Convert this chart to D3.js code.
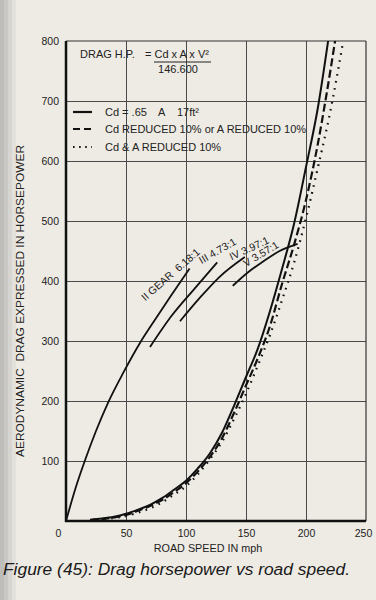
<!DOCTYPE html>
<html>
<head>
<meta charset="utf-8">
<script src="https://cdn.jsdelivr.net/npm/d3@7"></script>
<style>
  body { margin: 0; background: #eeebe4; }
  svg { display: block; font-family: "Liberation Sans", Arial, sans-serif; }
  text { white-space: pre; }
</style>
</head>
<body>
<svg id="chart" width="376" height="600"></svg>
<script>
// ---- data ----
var speedTicks = [0, 50, 100, 150, 200, 250];
var hpTicks = [100, 200, 300, 400, 500, 600, 700, 800];

// drag curves (mph -> hp)
var solidSpeed  = [20, 30, 40, 50, 60, 70, 80, 90, 100, 110, 120, 130, 140, 150, 160, 170, 180, 190, 200, 210, 219];
var solidHp     = [2, 4, 7, 12, 19, 27, 38, 52, 67, 88, 113, 147, 192, 240, 288, 350, 420, 495, 590, 690, 808];
var dashedSpeed = [20, 30, 40, 50, 60, 70, 80, 90, 100, 110, 120, 130, 140, 150, 160, 170, 180, 190, 200, 210, 217, 225];
var dashedHp    = [1, 3, 6, 10, 17, 25, 35, 48, 63, 83, 107, 138, 180, 226, 272, 325, 395, 460, 535, 630, 710, 810];
var dottedSpeed = [20, 30, 40, 50, 60, 70, 80, 90, 100, 110, 120, 130, 140, 150, 160, 170, 180, 190, 200, 210, 220, 231];
var dottedHp    = [1, 2, 5, 8, 14, 21, 31, 44, 58, 78, 103, 132, 170, 212, 260, 310, 368, 430, 505, 590, 680, 800];

// gear curves
var gear2Speed = [0, 8, 16, 25, 35, 48, 62, 75, 88, 103];
var gear2Hp    = [0, 55, 102, 150, 197, 248, 298, 338, 377, 421];
var gear3Speed = [70, 88, 107, 126];
var gear3Hp    = [290, 342, 387, 431];
var gear4Speed = [95, 112, 128, 149];
var gear4Hp    = [333, 373, 407, 440];
var gear5Speed = [139, 152, 164, 178, 193];
var gear5Hp    = [392, 415, 432, 450, 462];

var gearLabels = ["II GEAR  6.18:1", "III 4.73:1", "IV 3.97:1", "V 3.57:1"];
var legendLabels = ["Cd = .65", "Cd REDUCED 10% or A REDUCED 10%", "Cd & A REDUCED 10%"];

var svg = d3.select("#chart");
var defs = svg.append("defs");
svg.append("rect").attr("width", 376).attr("height", 600).attr("fill", "#eeebe4");
// shaded left edge of the scanned page
[["#bdbdbb", 0], ["#c9c8c5", 4], ["#d6d5d1", 8], ["#e3e1dc", 12]].forEach(function(s) {
  svg.append("rect").attr("x", s[1]).attr("width", 4).attr("height", 600).attr("fill", s[0]);
});

var xs = d3.scaleLinear().domain([0, 250]).range([66, 366]);
var ys = d3.scaleLinear().domain([0, 800]).range([521, 41]);

defs.append("clipPath").attr("id", "plotclip")
  .append("rect").attr("x", xs(0)).attr("y", ys(800)).attr("width", xs(250) - xs(0)).attr("height", ys(0) - ys(800));

// grid drawn with the axis generators
var gx = svg.append("g").attr("class", "gridx").attr("transform", "translate(0," + ys(0) + ")")
  .call(d3.axisBottom(xs).tickValues(speedTicks.slice(1, -1)).tickSize(-(ys(0) - ys(800))).tickFormat(""));
gx.select(".domain").remove();
gx.selectAll(".tick line").attr("stroke", "#4a4a4a").attr("stroke-width", 1);

var gy = svg.append("g").attr("class", "gridy").attr("transform", "translate(" + xs(0) + ",0)")
  .call(d3.axisLeft(ys).tickValues(hpTicks.slice(0, -1)).tickSize(-(xs(250) - xs(0))).tickFormat(""));
gy.select(".domain").remove();
gy.selectAll(".tick line").attr("stroke", "#4a4a4a").attr("stroke-width", 1);

// frame
svg.append("line").attr("x1", xs(0)).attr("x2", xs(250)).attr("y1", ys(800)).attr("y2", ys(800)).attr("stroke", "#333").attr("stroke-width", 1.2);
svg.append("line").attr("x1", xs(250)).attr("x2", xs(250)).attr("y1", ys(0)).attr("y2", ys(800)).attr("stroke", "#333").attr("stroke-width", 1.2);
svg.append("line").attr("x1", xs(0)).attr("x2", xs(0)).attr("y1", ys(0) + 1).attr("y2", ys(800)).attr("stroke", "#111").attr("stroke-width", 2.5);
svg.append("line").attr("x1", xs(0) - 1).attr("x2", xs(250)).attr("y1", ys(0)).attr("y2", ys(0)).attr("stroke", "#111").attr("stroke-width", 2.5);

// axes
var xAxis = svg.append("g").attr("transform", "translate(0," + ys(0) + ")")
  .call(d3.axisBottom(xs).tickValues(speedTicks).tickSize(0).tickPadding(9));
xAxis.select(".domain").remove();
xAxis.selectAll("text").attr("font-size", 10.5).attr("fill", "#222")
  .attr("font-family", "Liberation Sans, Arial, sans-serif")
  .attr("dx", function(d) { return d === 0 ? -8 : (d === 250 ? -3 : 0); });

var yAxis = svg.append("g").attr("transform", "translate(" + xs(0) + ",0)")
  .call(d3.axisLeft(ys).tickValues(hpTicks).tickSize(0).tickPadding(7));
yAxis.select(".domain").remove();
yAxis.selectAll("text").attr("font-size", 10.5).attr("fill", "#222")
  .attr("font-family", "Liberation Sans, Arial, sans-serif");

// axis titles
svg.append("text").attr("x", 208).attr("y", 552).attr("text-anchor", "middle")
  .attr("font-size", 10.8).attr("fill", "#222").text("ROAD SPEED IN mph");
svg.append("text").attr("transform", "translate(24,301) rotate(-90)").attr("text-anchor", "middle")
  .attr("font-size", 10.8).attr("fill", "#222")
  .attr("textLength", 312).attr("lengthAdjust", "spacingAndGlyphs")
  .text("AERODYNAMIC  DRAG EXPRESSED IN HORSEPOWER");

// curves, clipped at the plot frame
var lineGen = d3.line().x(function(d) { return xs(d[0]); }).y(function(d) { return ys(d[1]); }).curve(d3.curveMonotoneX);
var zip = function(a, b) { return a.map(function(v, i) { return [v, b[i]]; }); };

var plot = svg.append("g").attr("clip-path", "url(#plotclip)");
plot.append("path").attr("d", lineGen(zip(dottedSpeed, dottedHp))).attr("fill", "none")
  .attr("stroke", "#111").attr("stroke-width", 2.2).attr("stroke-dasharray", "1.6,5.5");
plot.append("path").attr("d", lineGen(zip(dashedSpeed, dashedHp))).attr("fill", "none")
  .attr("stroke", "#111").attr("stroke-width", 2.2).attr("stroke-dasharray", "8,3.5");
plot.append("path").attr("d", lineGen(zip(solidSpeed, solidHp))).attr("fill", "none")
  .attr("stroke", "#111").attr("stroke-width", 2);

var gears = [[gear2Speed, gear2Hp], [gear3Speed, gear3Hp], [gear4Speed, gear4Hp], [gear5Speed, gear5Hp]];
gears.forEach(function(g) {
  plot.append("path").attr("d", lineGen(zip(g[0], g[1]))).attr("fill", "none")
    .attr("stroke", "#111").attr("stroke-width", 1.8);
});

// gear labels (anchor speed, hp, angle)
var labelAt = [[66, 366, -41], [113, 428, -30], [138, 434, -25], [150, 423, -31]];
gearLabels.forEach(function(t, i) {
  var p = labelAt[i];
  svg.append("text").attr("transform", "translate(" + xs(p[0]) + "," + ys(p[1]) + ") rotate(" + p[2] + ")")
    .attr("font-size", 10.5).attr("fill", "#222").text(t);
});

// formula box
svg.append("text").attr("x", 80).attr("y", 58).attr("font-size", 11).attr("fill", "#222").text("DRAG H.P.");
svg.append("text").attr("x", 145).attr("y", 58).attr("font-size", 11).attr("fill", "#222").text("= Cd x A x V\u00b2");
svg.append("line").attr("x1", 154).attr("x2", 211).attr("y1", 62).attr("y2", 62).attr("stroke", "#222").attr("stroke-width", 1.1);
svg.append("text").attr("x", 178).attr("y", 73).attr("text-anchor", "middle").attr("font-size", 11).attr("fill", "#222").text("146.600");

// legend
var legY = [112, 129, 147];
var legDash = [null, "7,4", "1.6,4.5"];
legendLabels.forEach(function(t, i) {
  var l = svg.append("line").attr("x1", 73).attr("x2", 92).attr("y1", legY[i]).attr("y2", legY[i])
    .attr("stroke", "#111").attr("stroke-width", 2.2);
  if (legDash[i]) l.attr("stroke-dasharray", legDash[i]);
  svg.append("text").attr("x", 105).attr("y", legY[i] + 4).attr("font-size", 11).attr("fill", "#222").text(t);
});
svg.append("text").attr("x", 158).attr("y", legY[0] + 4).attr("font-size", 11).attr("fill", "#222").text("A");
svg.append("text").attr("x", 177).attr("y", legY[0] + 4).attr("font-size", 11).attr("fill", "#222").text("17ft\u00b2");

// caption
svg.append("text").attr("x", 3).attr("y", 575).attr("font-size", 17.4).attr("font-style", "italic")
  .attr("fill", "#1a1a1a").text("Figure (45): Drag horsepower vs road speed.");
</script>
</body>
</html>
